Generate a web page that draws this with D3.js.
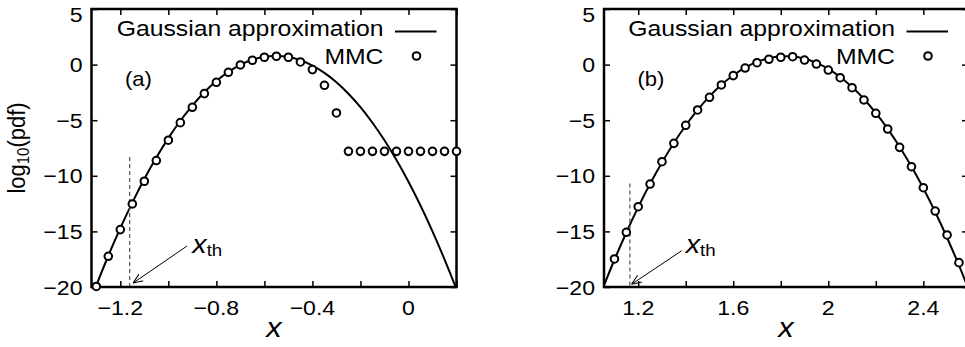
<!DOCTYPE html>
<html>
<head>
<meta charset="utf-8">
<script src="https://cdn.jsdelivr.net/npm/d3@7"></script>
<style>
  body { margin: 0; background: #fff; }
  svg { display: block; }
  text { font-family: "Liberation Sans", Arial, Helvetica, sans-serif; fill: #000; }
</style>
</head>
<body>
<svg id="fig" width="965" height="347"></svg>
<script>
// ---- data -------------------------------------------------------------
const yTickValues = [-20, -15, -10, -5, 0, 5];

// panel (a)
const xTicksA  = [-1.2, -1.0, -0.8, -0.6, -0.4, -0.2, 0.0, 0.2];
const xLabelsA = [-1.2, -0.8, -0.4, 0];
const mmcA_x = [-1.30, -1.25, -1.20, -1.15, -1.10, -1.05, -1.00, -0.95, -0.90, -0.85,
                -0.80, -0.75, -0.70, -0.65, -0.60, -0.55, -0.50, -0.45, -0.40, -0.35,
                -0.30, -0.25, -0.20, -0.15, -0.10, -0.05, 0.00, 0.05, 0.10, 0.15, 0.20];
const mmcA_y = [-19.95, -17.24, -14.84, -12.53, -10.49, -8.63, -6.80, -5.22, -3.84, -2.61,
                -1.59, -0.69, -0.03, 0.39, 0.66, 0.75, 0.66, 0.24, -0.45, -1.86,
                -4.35, -7.80, -7.80, -7.80, -7.80, -7.80, -7.80, -7.80, -7.80, -7.80, -7.80];
const gaussA_x = [-1.35, -1.30, -1.25, -1.20, -1.15, -1.10, -1.05, -1.00, -0.95, -0.90,
                  -0.85, -0.80, -0.75, -0.70, -0.65, -0.60, -0.55, -0.50, -0.45, -0.40,
                  -0.35, -0.30, -0.25, -0.20, -0.15, -0.10, -0.05, 0.00, 0.05, 0.10,
                  0.15, 0.20, 0.25];
const gaussA_y = [-22.72, -19.87, -17.19, -14.71, -12.41, -10.29, -8.36, -6.61, -5.05, -3.68,
                  -2.48, -1.48, -0.66, -0.02, 0.43, 0.70, 0.78, 0.68, 0.39, -0.09,
                  -0.74, -1.59, -2.62, -3.83, -5.23, -6.81, -8.58, -10.53, -12.67, -15.00,
                  -17.51, -20.20, -23.08];
const xthA = -1.161;

// panel (b)
const xTicksB  = [1.2, 1.4, 1.6, 1.8, 2.0, 2.2, 2.4, 2.6];
const xLabelsB = [1.2, 1.6, 2, 2.4];
const mmcB_x = [1.10, 1.15, 1.20, 1.25, 1.30, 1.35, 1.40, 1.45, 1.50, 1.55,
                1.60, 1.65, 1.70, 1.75, 1.80, 1.85, 1.90, 1.95, 2.00, 2.05,
                2.10, 2.15, 2.20, 2.25, 2.30, 2.35, 2.40, 2.45, 2.50, 2.55];
const mmcB_y = [-17.48, -15.08, -12.78, -10.74, -8.73, -7.08, -5.46, -4.08, -2.94, -1.83,
                -0.99, -0.31, 0.17, 0.48, 0.66, 0.71, 0.41, 0.05, -0.49, -1.18,
                -2.08, -3.18, -4.38, -5.79, -7.44, -9.18, -11.07, -13.17, -15.32, -17.81];
const gaussB_x = [1.00, 1.05, 1.10, 1.15, 1.20, 1.25, 1.30, 1.35, 1.40, 1.45,
                  1.50, 1.55, 1.60, 1.65, 1.70, 1.75, 1.80, 1.85, 1.90, 1.95,
                  2.00, 2.05, 2.10, 2.15, 2.20, 2.25, 2.30, 2.35, 2.40, 2.45,
                  2.50, 2.55, 2.60, 2.65];
const gaussB_y = [-22.99, -20.18, -17.55, -15.10, -12.82, -10.72, -8.80, -7.05, -5.48, -4.08,
                  -2.86, -1.82, -0.96, -0.27, 0.24, 0.58, 0.74, 0.72, 0.52, 0.15,
                  -0.39, -1.12, -2.02, -3.09, -4.35, -5.78, -7.38, -9.17, -11.12, -13.26,
                  -15.57, -18.06, -20.73, -23.57];
const xthB = 1.165;

// ---- layout -----------------------------------------------------------
const SX = 1.1;              // horizontal stretch applied to all lettering
const plotTop = 9, plotBottom = 287;
const panels = [
  { key: "a", label: "(a)", left: 91.5, right: 456.5, domain: [-1.32, 0.2],
    ticks: xTicksA, labels: xLabelsA, mx: mmcA_x, my: mmcA_y, gx: gaussA_x, gy: gaussA_y,
    xth: xthA, dashTop: -8.3, arrow: [[-0.922, -16.31], [-1.147, -19.65]], note: [-0.90, -16.9] },
  { key: "b", label: "(b)", left: 604, right: 968, domain: [1.056, 2.588],
    ticks: xTicksB, labels: xLabelsB, mx: mmcB_x, my: mmcB_y, gx: gaussB_x, gy: gaussB_y,
    xth: xthB, dashTop: -10.7, arrow: [[1.383, -16.74], [1.172, -19.75]], note: [1.40, -16.9] }
];

const svg = d3.select("#fig");
const defs = svg.append("defs");
defs.append("marker")
  .attr("id", "head").attr("viewBox", "0 0 10 10")
  .attr("refX", 10).attr("refY", 5)
  .attr("markerWidth", 10).attr("markerHeight", 10)
  .attr("markerUnits", "userSpaceOnUse")
  .attr("orient", "auto")
  .append("path").attr("d", "M0,1 L10,5 L0,9")
  .attr("fill", "none").attr("stroke", "#000").attr("stroke-width", 1);

const y = d3.scaleLinear().domain([-20, 5]).range([plotBottom, plotTop]);
const fmt = d3.format("");

function label(g, px, py, txt, size, anchor, italic) {
  return g.append("text")
    .attr("transform", `translate(${px},${py}) scale(${SX},1)`)
    .attr("text-anchor", anchor || "start")
    .attr("font-size", size)
    .attr("font-style", italic ? "italic" : "normal")
    .text(txt);
}

panels.forEach(p => {
  const x = d3.scaleLinear().domain(p.domain).range([p.left, p.right]);
  const g = svg.append("g").attr("class", "panel-" + p.key);

  const clipId = "clip-" + p.key;
  defs.append("clipPath").attr("id", clipId)
    .append("rect").attr("x", p.left).attr("y", plotTop)
    .attr("width", p.right - p.left).attr("height", plotBottom - plotTop);

  // Gaussian approximation curve
  const pts = p.gx.map((v, i) => [v, p.gy[i]]);
  g.append("path")
    .attr("clip-path", `url(#${clipId})`)
    .attr("d", d3.line().x(d => x(d[0])).y(d => y(d[1])).curve(d3.curveNatural)(pts))
    .attr("fill", "none").attr("stroke", "#000").attr("stroke-width", 2);

  // threshold marker and its annotation
  g.append("line")
    .attr("x1", x(p.xth)).attr("x2", x(p.xth))
    .attr("y1", y(p.dashTop)).attr("y2", y(-20))
    .attr("stroke", "#555").attr("stroke-width", 1.2)
    .attr("stroke-dasharray", "4,3");
  g.append("line")
    .attr("x1", x(p.arrow[0][0])).attr("y1", y(p.arrow[0][1]))
    .attr("x2", x(p.arrow[1][0])).attr("y2", y(p.arrow[1][1]))
    .attr("stroke", "#000").attr("stroke-width", 1)
    .attr("marker-end", "url(#head)");
  const note = g.append("text")
    .attr("transform", `translate(${x(p.note[0])},${y(p.note[1])}) scale(${SX},1)`)
    .attr("font-size", 26);
  note.append("tspan").attr("font-style", "italic").text("x");
  note.append("tspan").attr("font-size", 17).attr("dy", 3).text("th");

  // panel tag
  label(g, p.left + 33.5, 86, p.label, 20);

  // legend
  label(g, p.right - 73, 36, "Gaussian approximation", 22.5, "end");
  g.append("line")
    .attr("x1", p.right - 61.5).attr("x2", p.right - 20)
    .attr("y1", 31.5).attr("y2", 31.5)
    .attr("stroke", "#000").attr("stroke-width", 2);
  label(g, p.right - 73, 63.5, "MMC", 22.5, "end");
  g.append("circle")
    .attr("cx", p.right - 40).attr("cy", 56).attr("r", 3.8)
    .attr("fill", "#fff").attr("stroke", "#000").attr("stroke-width", 2);

  // ticks on all four sides, pointing inward
  const tk = sel => sel.call(s => s.select(".domain").remove())
                       .call(s => s.selectAll(".tick line").attr("stroke-width", 1.5));
  g.append("g").attr("transform", `translate(0,${plotBottom})`)
    .call(d3.axisBottom(x).tickValues(p.ticks).tickSize(-6).tickFormat("")).call(tk);
  g.append("g").attr("transform", `translate(0,${plotTop})`)
    .call(d3.axisTop(x).tickValues(p.ticks).tickSize(-6).tickFormat("")).call(tk);
  g.append("g").attr("transform", `translate(${p.left},0)`)
    .call(d3.axisLeft(y).tickValues(yTickValues).tickSize(-6).tickFormat("")).call(tk);
  g.append("g").attr("transform", `translate(${p.right},0)`)
    .call(d3.axisRight(y).tickValues(yTickValues).tickSize(-6).tickFormat("")).call(tk);

  // frame
  g.append("rect")
    .attr("x", p.left).attr("y", plotTop)
    .attr("width", p.right - p.left).attr("height", plotBottom - plotTop)
    .attr("fill", "none").attr("stroke", "#000").attr("stroke-width", 2.5);

  // tick labels (the top one is nudged down so it stays inside the figure)
  g.selectAll("text.xl").data(p.labels).join("text").attr("class", "xl")
    .attr("transform", d => `translate(${x(d)},315) scale(${SX},1)`)
    .attr("text-anchor", "middle").attr("font-size", 21)
    .text(d => fmt(d));
  g.selectAll("text.yl").data(yTickValues).join("text").attr("class", "yl")
    .attr("transform", d => `translate(${p.left - 9},${Math.max(y(d) + 7.5, 22)}) scale(${SX},1)`)
    .attr("text-anchor", "end").attr("font-size", 21)
    .text(d => fmt(d));

  // axis title
  label(g, (p.left + p.right) / 2, 337, "x", 28, "middle", true);

  // MMC points
  g.selectAll("circle.mmc").data(p.mx.map((v, i) => [v, p.my[i]])).join("circle")
    .attr("class", "mmc")
    .attr("cx", d => x(d[0])).attr("cy", d => y(d[1])).attr("r", 3.8)
    .attr("fill", "#fff").attr("stroke", "#000").attr("stroke-width", 2);
});

// shared y-axis title
const yt = svg.append("text")
  .attr("transform", `translate(25,148) scale(${SX},1) rotate(-90)`)
  .attr("text-anchor", "middle").attr("font-size", 22);
yt.append("tspan").text("log");
yt.append("tspan").attr("font-size", 15).attr("dy", 4).text("10");
yt.append("tspan").attr("dy", -4).text("(pdf)");
</script>
</body>
</html>
